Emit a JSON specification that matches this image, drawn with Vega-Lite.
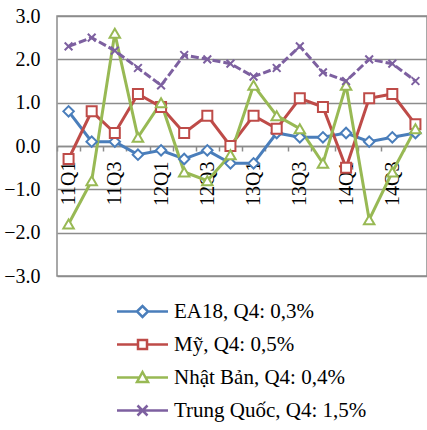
{
  "$schema": "https://vega.github.io/schema/vega-lite/v6.json",
  "autosize": "none",
  "width": 370,
  "height": 260,
  "padding": {"left": 57, "top": 16, "right": 0, "bottom": 154},
  "background": "white",
  "config": {
    "font": "Liberation Serif",
    "view": {"stroke": "#8c8c8c", "strokeWidth": 1.5},
    "axis": {"labelFont": "Liberation Serif", "labelFontSize": 20, "labelColor": "#000000", "title": null}
  },
  "data": {
    "values": [
      {"q": "11Q1", "s": "EA18, Q4: 0,3%", "v": 0.8},
      {"q": "11Q2", "s": "EA18, Q4: 0,3%", "v": 0.1},
      {"q": "11Q3", "s": "EA18, Q4: 0,3%", "v": 0.1},
      {"q": "11Q4", "s": "EA18, Q4: 0,3%", "v": -0.2},
      {"q": "12Q1", "s": "EA18, Q4: 0,3%", "v": -0.1},
      {"q": "12Q2", "s": "EA18, Q4: 0,3%", "v": -0.3},
      {"q": "12Q3", "s": "EA18, Q4: 0,3%", "v": -0.1},
      {"q": "12Q4", "s": "EA18, Q4: 0,3%", "v": -0.4},
      {"q": "13Q1", "s": "EA18, Q4: 0,3%", "v": -0.4},
      {"q": "13Q2", "s": "EA18, Q4: 0,3%", "v": 0.3},
      {"q": "13Q3", "s": "EA18, Q4: 0,3%", "v": 0.2},
      {"q": "13Q4", "s": "EA18, Q4: 0,3%", "v": 0.2},
      {"q": "14Q1", "s": "EA18, Q4: 0,3%", "v": 0.3},
      {"q": "14Q2", "s": "EA18, Q4: 0,3%", "v": 0.1},
      {"q": "14Q3", "s": "EA18, Q4: 0,3%", "v": 0.2},
      {"q": "14Q4", "s": "EA18, Q4: 0,3%", "v": 0.3},
      {"q": "11Q1", "s": "Mỹ, Q4: 0,5%", "v": -0.3},
      {"q": "11Q2", "s": "Mỹ, Q4: 0,5%", "v": 0.8},
      {"q": "11Q3", "s": "Mỹ, Q4: 0,5%", "v": 0.3},
      {"q": "11Q4", "s": "Mỹ, Q4: 0,5%", "v": 1.2},
      {"q": "12Q1", "s": "Mỹ, Q4: 0,5%", "v": 0.9},
      {"q": "12Q2", "s": "Mỹ, Q4: 0,5%", "v": 0.3},
      {"q": "12Q3", "s": "Mỹ, Q4: 0,5%", "v": 0.7},
      {"q": "12Q4", "s": "Mỹ, Q4: 0,5%", "v": 0.0},
      {"q": "13Q1", "s": "Mỹ, Q4: 0,5%", "v": 0.7},
      {"q": "13Q2", "s": "Mỹ, Q4: 0,5%", "v": 0.4},
      {"q": "13Q3", "s": "Mỹ, Q4: 0,5%", "v": 1.1},
      {"q": "13Q4", "s": "Mỹ, Q4: 0,5%", "v": 0.9},
      {"q": "14Q1", "s": "Mỹ, Q4: 0,5%", "v": -0.5},
      {"q": "14Q2", "s": "Mỹ, Q4: 0,5%", "v": 1.1},
      {"q": "14Q3", "s": "Mỹ, Q4: 0,5%", "v": 1.2},
      {"q": "14Q4", "s": "Mỹ, Q4: 0,5%", "v": 0.5},
      {"q": "11Q1", "s": "Nhật Bản, Q4: 0,4%", "v": -1.8},
      {"q": "11Q2", "s": "Nhật Bản, Q4: 0,4%", "v": -0.8},
      {"q": "11Q3", "s": "Nhật Bản, Q4: 0,4%", "v": 2.6},
      {"q": "11Q4", "s": "Nhật Bản, Q4: 0,4%", "v": 0.2},
      {"q": "12Q1", "s": "Nhật Bản, Q4: 0,4%", "v": 1.0},
      {"q": "12Q2", "s": "Nhật Bản, Q4: 0,4%", "v": -0.6},
      {"q": "12Q3", "s": "Nhật Bản, Q4: 0,4%", "v": -0.8},
      {"q": "12Q4", "s": "Nhật Bản, Q4: 0,4%", "v": -0.2},
      {"q": "13Q1", "s": "Nhật Bản, Q4: 0,4%", "v": 1.4},
      {"q": "13Q2", "s": "Nhật Bản, Q4: 0,4%", "v": 0.7},
      {"q": "13Q3", "s": "Nhật Bản, Q4: 0,4%", "v": 0.4},
      {"q": "13Q4", "s": "Nhật Bản, Q4: 0,4%", "v": -0.4},
      {"q": "14Q1", "s": "Nhật Bản, Q4: 0,4%", "v": 1.4},
      {"q": "14Q2", "s": "Nhật Bản, Q4: 0,4%", "v": -1.7},
      {"q": "14Q3", "s": "Nhật Bản, Q4: 0,4%", "v": -0.6},
      {"q": "14Q4", "s": "Nhật Bản, Q4: 0,4%", "v": 0.4},
      {"q": "11Q1", "s": "Trung Quốc, Q4: 1,5%", "v": 2.3},
      {"q": "11Q2", "s": "Trung Quốc, Q4: 1,5%", "v": 2.5},
      {"q": "11Q3", "s": "Trung Quốc, Q4: 1,5%", "v": 2.2},
      {"q": "11Q4", "s": "Trung Quốc, Q4: 1,5%", "v": 1.8},
      {"q": "12Q1", "s": "Trung Quốc, Q4: 1,5%", "v": 1.4},
      {"q": "12Q2", "s": "Trung Quốc, Q4: 1,5%", "v": 2.1},
      {"q": "12Q3", "s": "Trung Quốc, Q4: 1,5%", "v": 2.0},
      {"q": "12Q4", "s": "Trung Quốc, Q4: 1,5%", "v": 1.9},
      {"q": "13Q1", "s": "Trung Quốc, Q4: 1,5%", "v": 1.6},
      {"q": "13Q2", "s": "Trung Quốc, Q4: 1,5%", "v": 1.8},
      {"q": "13Q3", "s": "Trung Quốc, Q4: 1,5%", "v": 2.3},
      {"q": "13Q4", "s": "Trung Quốc, Q4: 1,5%", "v": 1.7},
      {"q": "14Q1", "s": "Trung Quốc, Q4: 1,5%", "v": 1.5},
      {"q": "14Q2", "s": "Trung Quốc, Q4: 1,5%", "v": 2.0},
      {"q": "14Q3", "s": "Trung Quốc, Q4: 1,5%", "v": 1.9},
      {"q": "14Q4", "s": "Trung Quốc, Q4: 1,5%", "v": 1.5}
    ]
  },
  "encoding": {
    "x": {
      "field": "q", "type": "ordinal", "sort": null,
      "scale": {"type": "band", "paddingInner": 0, "paddingOuter": 0},
      "axis": {
        "offset": -130, "labelAngle": -90, "tickBand": "extent",
        "domainColor": "#8c8c8c", "domainWidth": 1.5,
        "tickColor": "#8c8c8c", "tickWidth": 1.5, "tickSize": 5, "labelPadding": 10,
        "labelExpr": "test(/Q[13]$/, datum.label) ? datum.label : ''",
        "grid": false
      }
    },
    "y": {
      "field": "v", "type": "quantitative",
      "scale": {"domain": [-3, 3], "nice": false},
      "axis": {
        "values": [-3, -2, -1, 0, 1, 2, 3], "format": ".1f",
        "ticks": false, "domain": false, "labelPadding": 17,
        "grid": true, "gridColor": "#8c8c8c", "gridWidth": 1.5
      }
    },
    "color": {
      "field": "s", "type": "nominal",
      "scale": {
        "domain": ["EA18, Q4: 0,3%", "Mỹ, Q4: 0,5%", "Nhật Bản, Q4: 0,4%", "Trung Quốc, Q4: 1,5%"],
        "range": ["#4a7ebb", "#be4b48", "#98b954", "#7d60a0"]
      },
      "legend": {
        "orient": "none", "legendX": 60, "legendY": 284, "title": null,
        "labelFont": "Liberation Serif", "labelFontSize": 21, "labelColor": "#000000",
        "labelLimit": 300, "labelOffset": 34, "symbolSize": 400, "rowPadding": 11,
        "encode": {
          "symbols": {
            "update": {
              "shape": {"signal": "datum.value === 'EA18, Q4: 0,3%' ? 'M-1.15,0H0.85M1.95,0H3.95M0.85,0L1.4,-0.55L1.95,0L1.4,0.55Z' : datum.value === 'Mỹ, Q4: 0,5%' ? 'M-1.15,0H0.95M1.85,0H3.95M0.95,-0.45H1.85V0.45H0.95Z' : datum.value === 'Nhật Bản, Q4: 0,4%' ? 'M-1.15,0H1.1M1.7,0H3.95M1.4,-0.55L1.95,0.45L0.85,0.45Z' : 'M-1.15,0H3.95M0.9,-0.5L1.9,0.5M0.9,0.5L1.9,-0.5'"},
              "fill": {"value": "white"},
              "strokeWidth": {"value": 2.5},
              "opacity": {"value": 1}
            }
          }
        }
      }
    }
  },
  "layer": [
    {
      "transform": [{"filter": "datum.s !== 'Trung Quốc, Q4: 1,5%'"}],
      "mark": {"type": "line", "strokeWidth": 3}
    },
    {
      "transform": [{"filter": "datum.s === 'Trung Quốc, Q4: 1,5%'"}],
      "mark": {"type": "line", "strokeWidth": 3, "strokeDash": [8, 3]}
    },
    {
      "transform": [{"filter": "datum.s === 'EA18, Q4: 0,3%'"}],
      "mark": {"type": "point", "shape": "diamond", "filled": false, "fill": "white", "fillOpacity": 1, "strokeWidth": 2, "opacity": 1, "size": 110}
    },
    {
      "transform": [{"filter": "datum.s === 'Mỹ, Q4: 0,5%'"}],
      "mark": {"type": "point", "shape": "square", "filled": false, "fill": "white", "fillOpacity": 1, "strokeWidth": 2, "opacity": 1, "size": 100}
    },
    {
      "transform": [{"filter": "datum.s === 'Nhật Bản, Q4: 0,4%'"}],
      "mark": {"type": "point", "shape": "triangle-up", "filled": false, "fill": "white", "fillOpacity": 1, "strokeWidth": 2, "opacity": 1, "size": 110}
    },
    {
      "transform": [{"filter": "datum.s === 'Trung Quốc, Q4: 1,5%'"}],
      "mark": {"type": "point", "shape": "M-1,-1L1,1M-1,1L1,-1", "filled": false, "strokeWidth": 2, "opacity": 1, "size": 60}
    }
  ]
}
